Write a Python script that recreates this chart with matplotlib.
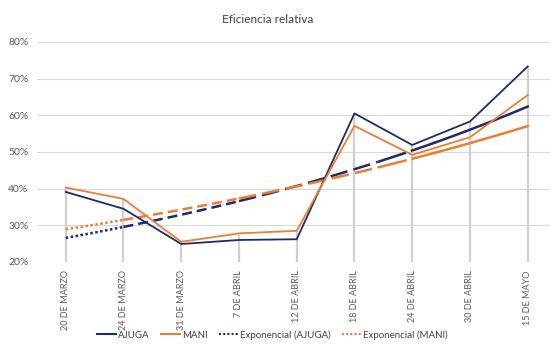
import numpy as np
import matplotlib
matplotlib.use('Agg')
import matplotlib.pyplot as plt
from matplotlib.ticker import PercentFormatter

# datos
fechas = ['20 DE MARZO', '24 DE MARZO', '31 DE MARZO', '7 DE ABRIL', '12 DE ABRIL',
          '18 DE ABRIL', '24 DE ABRIL', '30 DE ABRIL', '15 DE MAYO']
ajuga = [0.391, 0.345, 0.249, 0.260, 0.262, 0.605, 0.519, 0.583, 0.733]
mani = [0.403, 0.372, 0.255, 0.278, 0.285, 0.571, 0.492, 0.540, 0.655]

AZUL = '#1f2a6b'
NARANJA = '#ed7d31'

plt.rcParams['font.family'] = ['Lato', 'DejaVu Sans']

x = np.arange(len(fechas))

fig = plt.figure(figsize=(5.5, 3.55), dpi=100)
ax = fig.add_axes([0.067, 0.262, 0.945, 0.62])

# lineas de caida hasta el valor maximo
ax.vlines(x, 0.2, np.maximum(ajuga, mani), color='#d0d0d0', lw=1.6, zorder=1)

ax.plot(x, ajuga, color=AZUL, lw=1.3, zorder=4)
ax.plot(x, mani, color=NARANJA, lw=1.3, zorder=4)

# lineas de tendencia exponenciales (ajuste sobre el log, como Excel)
# el trazo va alargandose como en el original
tramos = [(0, 1, (0, (1, 1))), (1, 3, (0, (4, 2))), (3, 5.4, (0, (7, 2.5))),
          (5.4, 6.4, (0, (12, 2))), (6.4, 8, '-')]
xs = np.linspace(0, 8, 161)
for valores, color in [(ajuga, AZUL), (mani, NARANJA)]:
    b, a = np.polyfit(x, np.log(valores), 1)
    ys = np.exp(a + b * xs)
    for ini, fin, estilo in tramos:
        m = (xs >= ini) & (xs <= fin)
        ax.plot(xs[m], ys[m], color=color, lw=1.8, ls=estilo, zorder=3)

ax.set_xlim(-0.5, 8.5)
ax.set_ylim(0.2, 0.8)
ax.set_yticks(np.arange(0.2, 0.81, 0.1))
ax.yaxis.set_major_formatter(PercentFormatter(1.0, decimals=0))
ax.set_xticks(x)
ax.set_xticklabels(fechas, rotation=90, fontsize=6.5, color='#595959')
ax.tick_params(axis='y', labelsize=7.5, colors='#595959', length=0, pad=6)
ax.tick_params(axis='x', length=0, pad=6)
ax.grid(axis='y', color='#d9d9d9', lw=0.8)
ax.set_axisbelow(True)
for s in ax.spines.values():
    s.set_visible(False)

fig.text(0.487, 0.944, 'Eficiencia relativa', ha='center', va='center',
         fontsize=8.5, color='#404040')

handles = [plt.Line2D([], [], color=AZUL, lw=1.5),
           plt.Line2D([], [], color=NARANJA, lw=1.5),
           plt.Line2D([], [], color=AZUL, lw=1.5, ls=(0, (1, 1))),
           plt.Line2D([], [], color=NARANJA, lw=1.5, ls=(0, (1, 1)))]
etiquetas = ['AJUGA', 'MANI', 'Exponencial (AJUGA)', 'Exponencial (MANI)']
fig.legend(handles, etiquetas, loc='center', bbox_to_anchor=(0.495, 0.056), ncol=4,
           frameon=False, fontsize=7, handlelength=2.0, handletextpad=0.15,
           columnspacing=1.2, labelcolor='#404040')

fig.savefig('out.png', dpi=100)
